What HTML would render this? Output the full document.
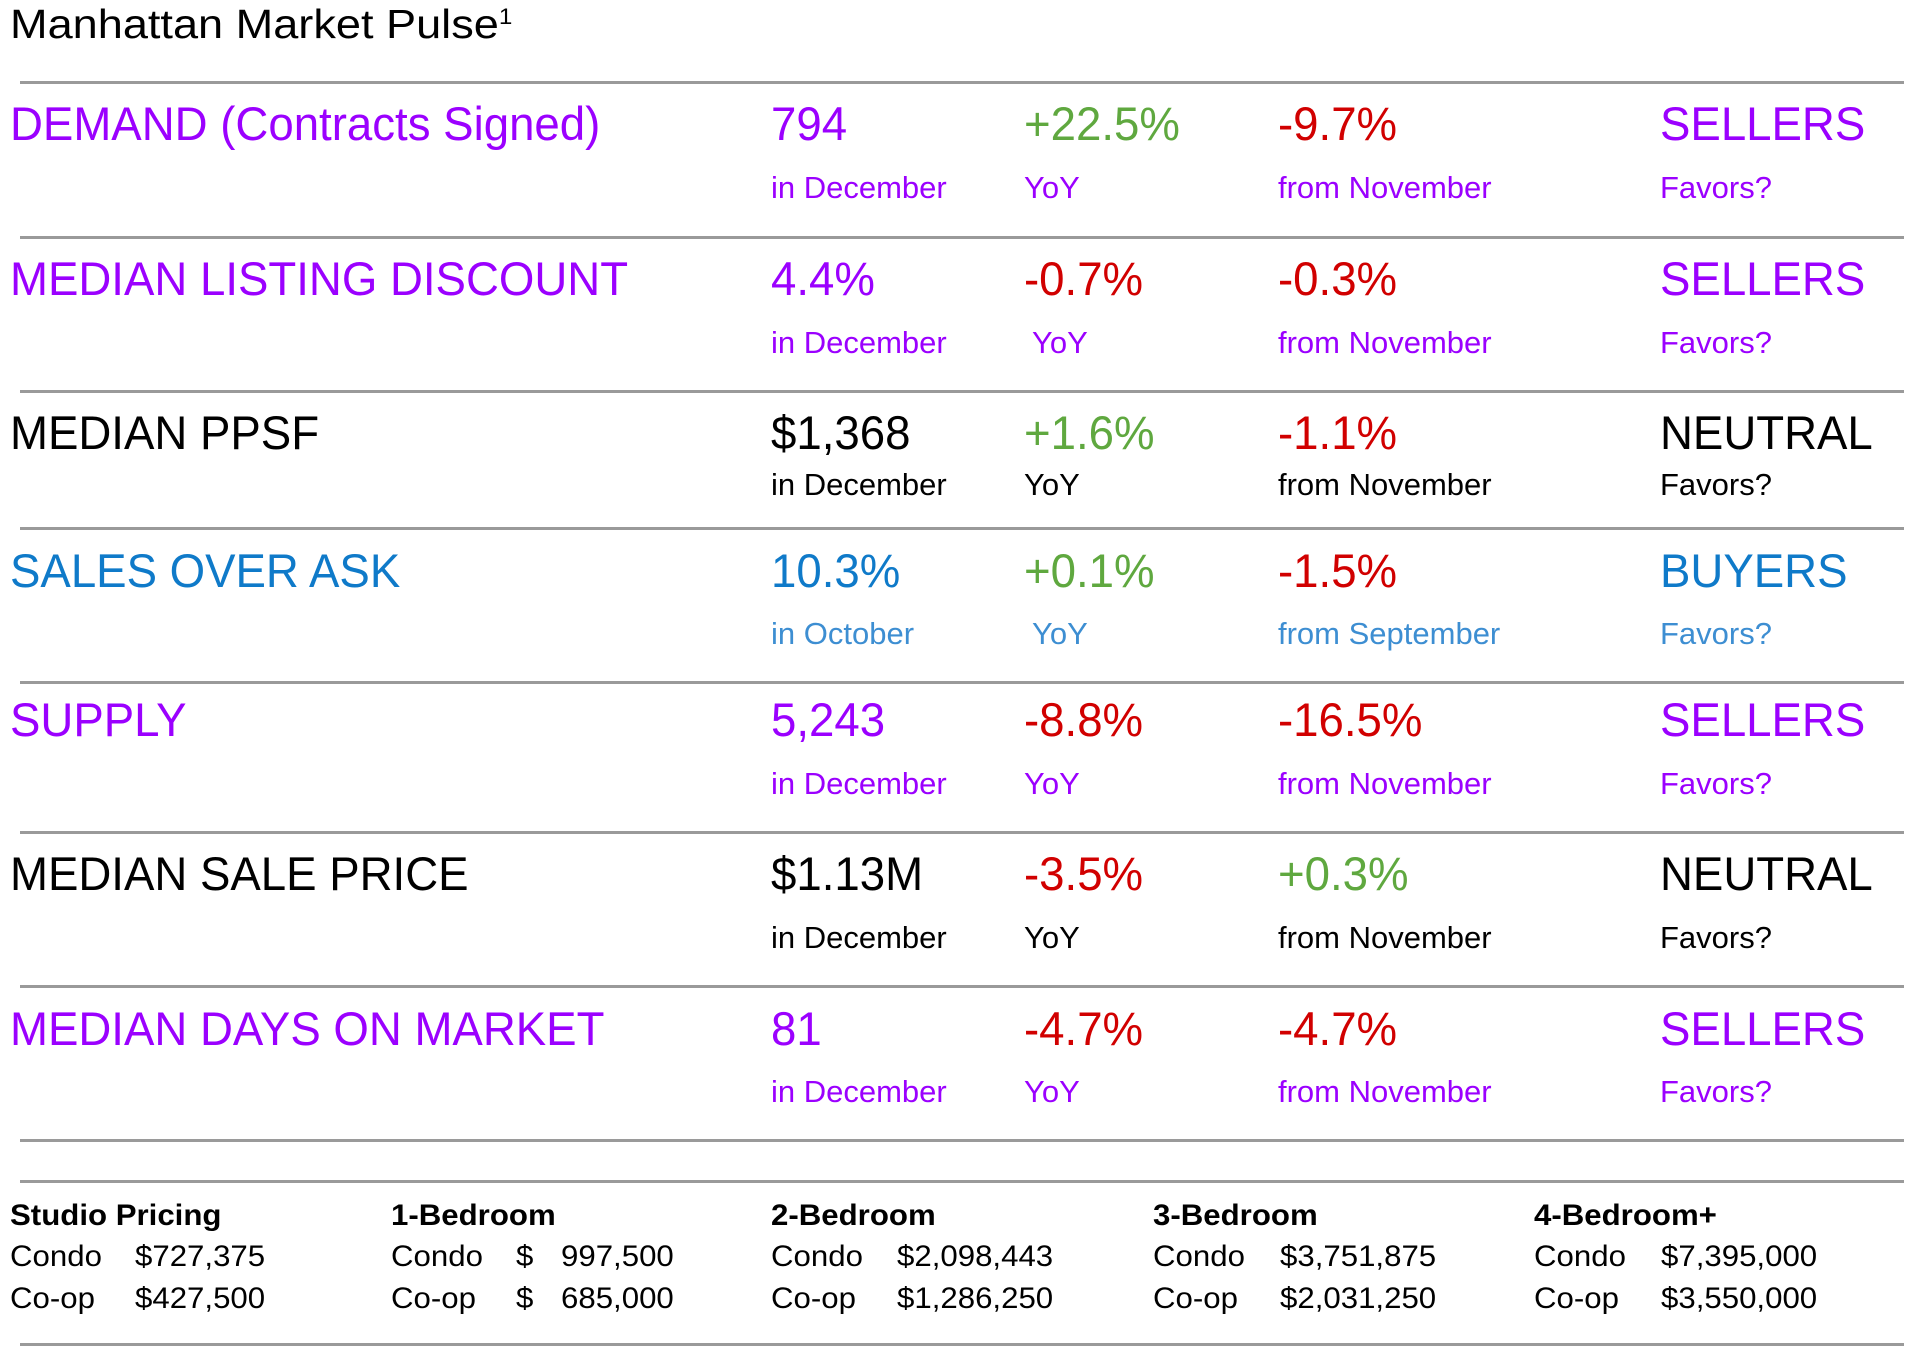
<!DOCTYPE html>
<html><head><meta charset="utf-8"><style>
html,body{margin:0;padding:0;background:#fff;}
body{width:1920px;height:1357px;position:relative;overflow:hidden;font-family:"Liberation Sans",sans-serif;}
.t{position:absolute;white-space:nowrap;line-height:1;transform-origin:0 0;}
.b{font-size:47px;transform:scaleX(0.97);}
.s{font-size:31px;transform:scaleX(1.0);}
.f{font-size:30px;transform:scaleX(1.04);}
.r{position:absolute;left:20px;width:1884px;height:3px;background:#9a9a9a;}
.p{color:#9b00ff}.g{color:#5fa83f}.red{color:#d10000}.k{color:#000}.bl{color:#0f7ac9}.lb{color:#3d8ed2}
</style></head><body>
<div class="t k" style="left:10px;top:4px;font-size:41px;transform:scaleX(1.1);">Manhattan Market Pulse<sup style="font-size:22px;vertical-align:14px;line-height:0">1</sup></div>

<div class="r" style="top:81px"></div>
<div class="r" style="top:236px"></div>
<div class="r" style="top:390px"></div>
<div class="r" style="top:527px"></div>
<div class="r" style="top:681px"></div>
<div class="r" style="top:831px"></div>
<div class="r" style="top:985px"></div>
<div class="r" style="top:1139px"></div>
<div class="r" style="top:1180px"></div>
<div class="r" style="top:1343px"></div>

<!-- row 1 -->
<div class="t b p" style="left:10px;top:100px">DEMAND (Contracts Signed)</div>
<div class="t b p" style="left:771px;top:100px">794</div>
<div class="t b g" style="left:1024px;top:100px">+22.5%</div>
<div class="t b red" style="left:1278px;top:100px">-9.7%</div>
<div class="t b p" style="left:1660px;top:100px">SELLERS</div>
<div class="t s p" style="left:771px;top:172px">in December</div>
<div class="t s p" style="left:1024px;top:172px">YoY</div>
<div class="t s p" style="left:1278px;top:172px">from November</div>
<div class="t s p" style="left:1660px;top:172px">Favors?</div>

<!-- row 2 -->
<div class="t b p" style="left:10px;top:255px">MEDIAN LISTING DISCOUNT</div>
<div class="t b p" style="left:771px;top:255px">4.4%</div>
<div class="t b red" style="left:1024px;top:255px">-0.7%</div>
<div class="t b red" style="left:1278px;top:255px">-0.3%</div>
<div class="t b p" style="left:1660px;top:255px">SELLERS</div>
<div class="t s p" style="left:771px;top:327px">in December</div>
<div class="t s p" style="left:1032px;top:327px">YoY</div>
<div class="t s p" style="left:1278px;top:327px">from November</div>
<div class="t s p" style="left:1660px;top:327px">Favors?</div>

<!-- row 3 -->
<div class="t b k" style="left:10px;top:409px">MEDIAN PPSF</div>
<div class="t b k" style="left:771px;top:409px">$1,368</div>
<div class="t b g" style="left:1024px;top:409px">+1.6%</div>
<div class="t b red" style="left:1278px;top:409px">-1.1%</div>
<div class="t b k" style="left:1660px;top:409px">NEUTRAL</div>
<div class="t s k" style="left:771px;top:469px">in December</div>
<div class="t s k" style="left:1024px;top:469px">YoY</div>
<div class="t s k" style="left:1278px;top:469px">from November</div>
<div class="t s k" style="left:1660px;top:469px">Favors?</div>

<!-- row 4 -->
<div class="t b bl" style="left:10px;top:547px">SALES OVER ASK</div>
<div class="t b bl" style="left:771px;top:547px">10.3%</div>
<div class="t b g" style="left:1024px;top:547px">+0.1%</div>
<div class="t b red" style="left:1278px;top:547px">-1.5%</div>
<div class="t b bl" style="left:1660px;top:547px">BUYERS</div>
<div class="t s lb" style="left:771px;top:618px">in October</div>
<div class="t s lb" style="left:1032px;top:618px">YoY</div>
<div class="t s lb" style="left:1278px;top:618px">from September</div>
<div class="t s lb" style="left:1660px;top:618px">Favors?</div>

<!-- row 5 -->
<div class="t b p" style="left:10px;top:696px">SUPPLY</div>
<div class="t b p" style="left:771px;top:696px">5,243</div>
<div class="t b red" style="left:1024px;top:696px">-8.8%</div>
<div class="t b red" style="left:1278px;top:696px">-16.5%</div>
<div class="t b p" style="left:1660px;top:696px">SELLERS</div>
<div class="t s p" style="left:771px;top:768px">in December</div>
<div class="t s p" style="left:1024px;top:768px">YoY</div>
<div class="t s p" style="left:1278px;top:768px">from November</div>
<div class="t s p" style="left:1660px;top:768px">Favors?</div>

<!-- row 6 -->
<div class="t b k" style="left:10px;top:850px">MEDIAN SALE PRICE</div>
<div class="t b k" style="left:771px;top:850px">$1.13M</div>
<div class="t b red" style="left:1024px;top:850px">-3.5%</div>
<div class="t b g" style="left:1278px;top:850px">+0.3%</div>
<div class="t b k" style="left:1660px;top:850px">NEUTRAL</div>
<div class="t s k" style="left:771px;top:922px">in December</div>
<div class="t s k" style="left:1024px;top:922px">YoY</div>
<div class="t s k" style="left:1278px;top:922px">from November</div>
<div class="t s k" style="left:1660px;top:922px">Favors?</div>

<!-- row 7 -->
<div class="t b p" style="left:10px;top:1005px">MEDIAN DAYS ON MARKET</div>
<div class="t b p" style="left:771px;top:1005px">81</div>
<div class="t b red" style="left:1024px;top:1005px">-4.7%</div>
<div class="t b red" style="left:1278px;top:1005px">-4.7%</div>
<div class="t b p" style="left:1660px;top:1005px">SELLERS</div>
<div class="t s p" style="left:771px;top:1076px">in December</div>
<div class="t s p" style="left:1024px;top:1076px">YoY</div>
<div class="t s p" style="left:1278px;top:1076px">from November</div>
<div class="t s p" style="left:1660px;top:1076px">Favors?</div>

<!-- bottom pricing -->
<div class="t f k" style="left:10px;top:1201px;font-weight:bold">Studio Pricing</div>
<div class="t f k" style="left:10px;top:1242px">Condo</div>
<div class="t f k" style="left:135px;top:1242px">$727,375</div>
<div class="t f k" style="left:10px;top:1284px">Co-op</div>
<div class="t f k" style="left:135px;top:1284px">$427,500</div>

<div class="t f k" style="left:391px;top:1201px;font-weight:bold">1-Bedroom</div>
<div class="t f k" style="left:391px;top:1242px">Condo</div>
<div class="t f k" style="left:516px;top:1242px">$</div>
<div class="t f k" style="left:561px;top:1242px">997,500</div>
<div class="t f k" style="left:391px;top:1284px">Co-op</div>
<div class="t f k" style="left:516px;top:1284px">$</div>
<div class="t f k" style="left:561px;top:1284px">685,000</div>

<div class="t f k" style="left:771px;top:1201px;font-weight:bold">2-Bedroom</div>
<div class="t f k" style="left:771px;top:1242px">Condo</div>
<div class="t f k" style="left:897px;top:1242px">$2,098,443</div>
<div class="t f k" style="left:771px;top:1284px">Co-op</div>
<div class="t f k" style="left:897px;top:1284px">$1,286,250</div>

<div class="t f k" style="left:1153px;top:1201px;font-weight:bold">3-Bedroom</div>
<div class="t f k" style="left:1153px;top:1242px">Condo</div>
<div class="t f k" style="left:1280px;top:1242px">$3,751,875</div>
<div class="t f k" style="left:1153px;top:1284px">Co-op</div>
<div class="t f k" style="left:1280px;top:1284px">$2,031,250</div>

<div class="t f k" style="left:1534px;top:1201px;font-weight:bold">4-Bedroom+</div>
<div class="t f k" style="left:1534px;top:1242px">Condo</div>
<div class="t f k" style="left:1661px;top:1242px">$7,395,000</div>
<div class="t f k" style="left:1534px;top:1284px">Co-op</div>
<div class="t f k" style="left:1661px;top:1284px">$3,550,000</div>
</body></html>
